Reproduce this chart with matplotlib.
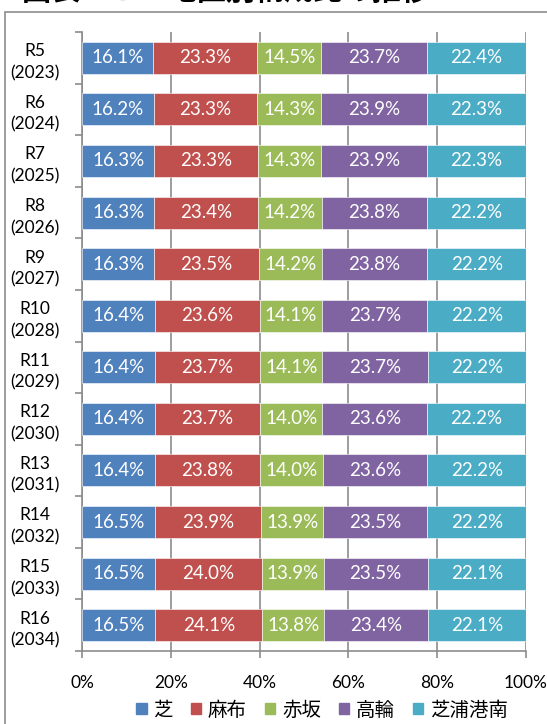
import matplotlib
matplotlib.use("Agg")
import matplotlib.pyplot as plt
from matplotlib.patches import Rectangle
import numpy as np

plt.rcParams['font.family'] = ['Lato', 'Noto Sans CJK JP', 'DejaVu Sans']

categories = ["R5\n(2023)", "R6\n(2024)", "R7\n(2025)", "R8\n(2026)", "R9\n(2027)",
              "R10\n(2028)", "R11\n(2029)", "R12\n(2030)", "R13\n(2031)", "R14\n(2032)",
              "R15\n(2033)", "R16\n(2034)"]
series_names = ["芝", "麻布", "赤坂", "高輪", "芝浦港南"]
shiba   = [16.1, 16.2, 16.3, 16.3, 16.3, 16.4, 16.4, 16.4, 16.4, 16.5, 16.5, 16.5]
azabu   = [23.3, 23.3, 23.3, 23.4, 23.5, 23.6, 23.7, 23.7, 23.8, 23.9, 24.0, 24.1]
akasaka = [14.5, 14.3, 14.3, 14.2, 14.2, 14.1, 14.1, 14.0, 14.0, 13.9, 13.9, 13.8]
takanawa= [23.7, 23.9, 23.9, 23.8, 23.8, 23.7, 23.7, 23.6, 23.6, 23.5, 23.5, 23.4]
shibaura= [22.4, 22.3, 22.3, 22.2, 22.2, 22.2, 22.2, 22.2, 22.2, 22.2, 22.1, 22.1]
colors = ["#4F81BD", "#C0504D", "#9BBB59", "#8064A2", "#4BACC6"]
xticks = [0, 20, 40, 60, 80, 100]
title = "図表１７　地区別構成比の推移"

data = np.array([shiba, azabu, akasaka, takanawa, shibaura])
shares = data / data.sum(axis=0) * 100

fig = plt.figure(figsize=(5.47, 7.24), dpi=100)
ax = fig.add_axes([82/547, 1 - 651/724, (526-82)/547, (651-32)/724])

# frame around chart
fig.patches.append(Rectangle((5/547, -0.01), 1.0, 1 - 12/724 + 0.01, transform=fig.transFigure,
                             fill=False, edgecolor="#8c8c8c", linewidth=1.2, zorder=0))
fig.text(22/547, 1 + 9.5/724, title, fontsize=21, fontweight='bold',
         family=['Noto Sans CJK JP'], ha='left', va='center')

y = np.arange(len(categories))
left = np.zeros(len(categories))
for i, name in enumerate(series_names):
    bars = ax.barh(y, shares[i], left=left, height=0.62, color=colors[i],
                   edgecolor='white', linewidth=0.4, label=name, zorder=3)
    for j, b in enumerate(bars):
        ax.text(left[j] + shares[i][j] / 2, y[j], f"{data[i][j]:.1f}%",
                ha='center', va='center', color='white', fontsize=13.5, zorder=4)
    left += shares[i]

ax.set_ylim(len(categories) - 0.5, -0.5)
ax.set_xlim(0, 100)
ax.set_xticks(xticks)
ax.set_xticklabels([f"{t}%" for t in xticks], fontsize=12.5)
ax.set_yticks(y)
ax.set_yticklabels(categories, fontsize=12.5, linespacing=1.45, multialignment='center')
ax.set_yticks(np.arange(-0.5, len(categories)), minor=True)
ax.tick_params(axis='y', which='major', length=0, pad=16)
ax.tick_params(axis='y', which='minor', length=5, color='#8c8c8c', width=1.2)
ax.tick_params(axis='x', length=5, color='#8c8c8c', width=1.2, pad=12)
ax.xaxis.grid(True, color='#8c8c8c', linewidth=1.2, zorder=0)
ax.spines['top'].set_visible(False)
ax.spines['right'].set_visible(False)
for s in ['left', 'bottom']:
    ax.spines[s].set_color('#8c8c8c')
    ax.spines[s].set_linewidth(1.2)

handles = [Rectangle((0, 0), 1, 1, color=c) for c in colors]
fig.legend(handles, series_names, loc='center', bbox_to_anchor=(322/547, 1 - 710/724),
           ncol=5, frameon=False, handlelength=0.55, handleheight=0.55,
           handletextpad=0.35, columnspacing=0.9, prop={'family': ['Noto Sans CJK JP'], 'size': 14})

fig.savefig("out.png", dpi=100)
